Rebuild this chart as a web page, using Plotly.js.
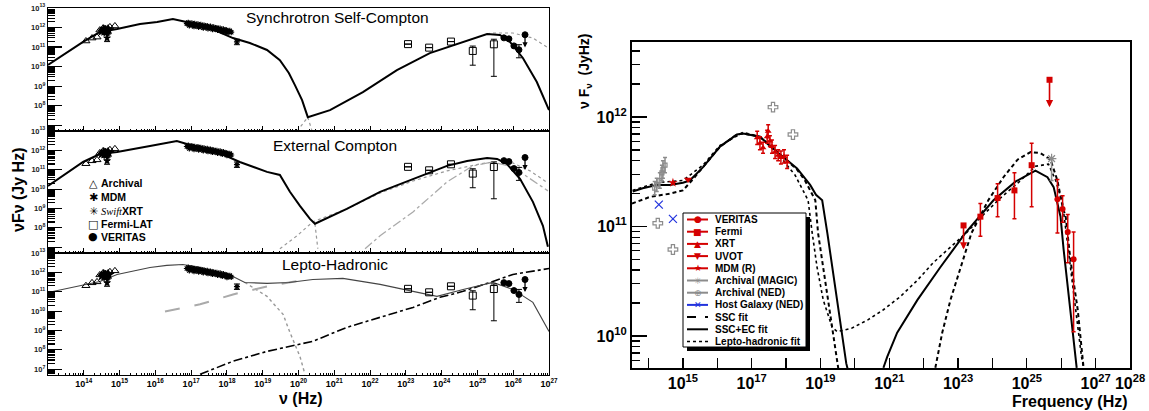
<!DOCTYPE html>
<html><head><meta charset="utf-8">
<script src="https://cdn.plot.ly/plotly-3.0.1.min.js"></script>
<style>body{margin:0;background:#fff}#chart{width:1149px;height:411px}</style>
</head><body><div id="chart"></div>
<script>
// ================= DATA (all values are log10) =================
// ---- Left figure: observed SED points (same in the three model panels)
const archNu = [14.06,14.23,14.37,14.45,14.54,14.73,14.87];
const archF  = [11.31,11.46,11.51,11.87,11.97,12.03,12.08];
const mdmNu  = [14.50,14.54,14.57,14.60,14.62,14.65,14.67,14.70,14.56,14.63,14.68];
const mdmF   = [11.80,11.86,11.78,11.90,11.84,11.88,11.82,11.86,11.92,11.76,11.93];
const mdmENu = [14.65], mdmEF = [11.46], mdmEHi = [11.62], mdmELo = [11.28];
const swiftNu = [16.88,16.92,16.97,17.02,17.06,17.10,17.14,17.19,17.23,17.27,17.32,17.36,17.41,17.45,17.50,17.54,17.58,17.63,17.67,17.72,17.76,17.81,17.85,17.90,17.94,17.98,18.03,18.08,18.12,16.95,17.08,17.21,17.34,17.47,17.60,17.74,17.87,18.00];
const swiftF  = [12.20,12.25,12.16,12.22,12.13,12.19,12.10,12.17,12.08,12.14,12.05,12.11,12.02,12.08,11.99,12.05,11.96,12.01,11.93,11.98,11.90,11.95,11.86,11.91,11.83,11.87,11.79,11.83,11.76,12.10,12.06,12.03,11.99,11.95,11.91,11.87,11.81,11.75];
const swiftENu = [18.28], swiftEF = [11.26], swiftEHi = [11.40], swiftELo = [11.12];
const lFermiNu = [23.06,23.65,24.26,24.87,25.46];
const lFermiF  = [11.15,10.97,11.28,10.80,11.14];
const lFermiHi = [11.15,10.97,11.28,11.05,11.40];
const lFermiLo = [11.15,10.97,11.28,10.07,9.50];
const lVerNu = [25.74,25.88,26.02,26.16];
const lVerF  = [11.47,11.42,11.06,10.86];
const lVerHi = [11.50,11.45,11.10,11.12];
const lVerLo = [11.44,11.39,11.02,10.45];
const lVerULNu = [26.33], lVerULF = [11.63], lVerULEnd = [10.98];

// ---- Left figure: model curves
// Synchrotron Self-Compton panel
const sscTotNu = [13.00,13.98,14.45,14.93,15.57,16.05,16.49,16.77,17.25,17.72,18.17,18.64,19.12,19.48,19.73,19.90,20.10,20.26,20.88,21.80,22.75,23.67,24.60,25.27,25.63,25.91,26.27,26.66,27.00];
const sscTotF  = [10.08,11.26,11.77,11.92,12.18,12.28,12.44,12.33,12.13,11.82,11.46,11.21,10.85,10.33,9.67,9.05,8.28,7.41,7.77,8.69,9.82,10.69,11.26,11.67,11.62,11.26,10.44,9.21,7.77];
const sscSyTailNu = [20.26,20.38], sscSyTailF = [7.41,6.69];
const sscIcLowNu = [19.96,20.26], sscIcLowF = [6.69,7.41];
const sscUnabsNu = [25.27,25.43,25.99,26.55,26.94], sscUnabsF = [11.67,11.72,11.72,11.46,11.00];
// External Compton panel
const ecTotNu = [13.00,13.98,14.45,14.93,15.85,16.60,16.88,17.72,18.36,19.12,19.48,19.76,20.04,20.32,20.46,21.35,22.28,23.20,24.15,24.71,25.27,25.55,25.82,26.19,26.55,26.83,26.97];
const ecTotF  = [10.16,11.40,11.81,11.92,12.23,12.48,12.33,11.92,11.40,10.89,10.73,9.86,9.13,8.46,8.21,8.98,9.86,10.53,11.20,11.45,11.61,11.56,11.30,10.53,9.34,8.10,7.02];
const ecSscNu = [19.48,19.96,20.40,21.35,22.28,23.20,24.15,25.07,25.63,25.99,26.47,26.97];
const ecSscF  = [6.92,7.59,8.31,8.98,9.80,10.42,10.94,11.30,11.45,11.35,10.94,10.32];
const ecEcNu = [21.86,22.28,23.20,24.15,24.87,25.43,25.99,26.55,26.97];
const ecEcF  = [6.92,7.59,8.82,10.37,11.20,11.40,11.14,10.42,9.91];
const ecSyTailNu = [20.46,20.54], ecSyTailF = [8.21,6.92];
// Lepto-Hadronic panel
const lhTotNu = [13.00,14.45,14.93,15.85,16.32,16.77,17.25,18.17,18.50,19.12,19.73,20.40,21.24,22.28,23.20,23.87,24.60,25.43,25.99,26.55,27.00];
const lhTotF  = [10.96,11.53,11.89,12.25,12.36,12.41,12.25,11.79,11.48,11.43,11.48,11.63,11.69,11.38,11.02,10.76,11.12,11.48,11.12,10.45,8.95];
const lhSyTailNu = [18.50,19.12,19.57,19.76,20.04,20.18];
const lhSyTailF  = [11.48,10.76,9.83,8.90,7.66,6.74];
const lhProtNu = [16.27,17.25,18.17,19.12,19.73,20.10];
const lhProtF  = [9.98,10.35,10.86,11.27,11.48,11.58];
const lhCascNu = [17.25,18.17,19.12,19.73,20.40,21.35,22.28,23.20,23.95,24.60,25.43,25.99,27.00];
const lhCascF  = [6.74,7.41,7.92,8.18,8.44,9.16,9.68,10.19,10.71,11.02,11.53,11.89,12.20];

// ---- Right figure: observed points
const verNu = [25.89,26.04,26.19,26.36];
const verF  = [11.25,11.16,10.95,10.70];
const verHi = [11.43,11.28,11.11,10.95];
const verLo = [10.94,11.04,10.67,10.04];
const fermiNu = [23.65,24.15,24.64,25.14];
const fermiF  = [11.09,11.26,11.33,11.56];
const fermiHi = [11.21,11.39,11.49,11.76];
const fermiLo = [10.91,11.09,11.07,11.18];
const fermiULNu = [23.16,25.66], fermiULF = [11.01,12.34], fermiULEnd = [10.79,12.09];
const xrtNu = [17.16,17.24,17.33,17.45,17.48,17.53,17.59,17.68,17.77,17.85,17.94,18.03];
const xrtF  = [11.81,11.76,11.72,11.82,11.87,11.78,11.73,11.68,11.65,11.63,11.64,11.59];
const xrtErr = [0.06,0.06,0.05,0.06,0.06,0.05,0.06,0.06,0.05,0.06,0.06,0.06];
const uvotNu = [15.15], uvotF = [11.43];
const mdmRNu = [14.71], mdmRF = [11.40];
const magicNu = [25.72], magicF = [11.62], magicLo = [11.42];
const nedNu = [17.62,18.20,14.27,14.71], nedF = [12.09,11.84,11.03,10.79];
const nedCNu = [14.18,14.24,14.33,14.39,14.42,14.48];
const nedCF  = [11.35,11.38,11.42,11.49,11.52,11.56];
const nedCErr = [0.06,0.06,0.07,0.07,0.08,0.07];
const hostNu = [14.30,14.71], hostF = [11.20,11.07];

// ---- Right figure: model fits (null = curve leaves the frame)
const fitSscNu = [13.52,14.04,14.62,15.00,15.26,15.58,16.08,16.57,16.75,17.24,17.74,18.32,18.55,18.72,18.85,18.93,19.08,19.22,19.37,19.49,19.52, null,
                  22.34,22.54,22.78,23.07,23.39,23.88,24.32,24.73,25.11,25.40,25.69,25.89,26.04,26.13,26.27,26.48,26.65];
const fitSscF  = [11.21,11.27,11.30,11.33,11.42,11.54,11.73,11.84,11.85,11.82,11.68,11.52,11.42,11.31,11.24,10.94,10.63,10.33,10.03,9.75,9.70, null,
                  9.71,10.03,10.33,10.63,10.94,11.24,11.45,11.61,11.68,11.67,11.61,11.42,11.18,11.09,10.69,10.24,9.71];
const fitEcNu = [13.54,13.83,14.24,14.62,15.00,15.20,15.58,16.08,16.57,16.75,17.24,17.74,18.32,18.70,18.87,19.05,19.20,19.34,19.49,19.63,19.75,19.79, null,
                 20.83,20.94,21.23,21.82,22.49,23.21,24.03,24.67,25.25,25.60,25.78,25.92,25.98,26.07,26.27,26.45];
const fitEcF  = [11.32,11.35,11.38,11.38,11.40,11.42,11.54,11.73,11.84,11.85,11.82,11.68,11.53,11.38,11.29,11.24,10.94,10.63,10.33,10.03,9.75,9.70, null,
                 9.71,9.81,10.03,10.33,10.63,10.94,11.24,11.41,11.51,11.45,11.36,11.18,11.09,10.79,10.24,9.71];
const fitLhNu = [13.54,14.24,15.00,15.58,16.08,16.75,17.24,17.74,18.26,18.64,18.76,18.90,19.08,19.34,19.49,19.90,20.39,20.83,21.32,21.82,22.28,22.78,23.27,23.65,24.23,24.82,25.25,25.63,25.84,26.04,26.27,26.45,26.59,26.65];
const fitLhF  = [11.33,11.40,11.42,11.56,11.74,11.86,11.82,11.67,11.47,11.24,10.94,10.63,10.33,10.08,10.04,10.07,10.15,10.24,10.36,10.51,10.67,10.81,10.95,11.08,11.26,11.42,11.55,11.57,11.42,11.21,10.63,10.15,9.81,9.71];

// ---- Tick labels
const leftDecades = [7,8,9,10,11,12,13];
const leftXDecades = [14,15,16,17,18,19,20,21,22,23,24,25,26,27];
const rightXDecades = [14,15,16,17,18,19,20,21,22,23,24,25,26,27,28];
const rightXLabelled = [15,17,19,21,23,25,27,28];
const rightYDecades = [10,11,12];

// ================= HELPERS =================
const W = 1149, H = 411;
const fx = p => p / W, fy = p => 1 - p / H;
const lin = a => a.map(v => v === null ? null : Math.pow(10, v));
const sup = n => '10<sup>' + n + '</sup>';
function asym(v, hi, lo) {
  return {type:'data', symmetric:false,
    array: hi.map((h,i)=>Math.pow(10,h)-Math.pow(10,v[i])),
    arrayminus: lo.map((l,i)=>Math.pow(10,v[i])-Math.pow(10,l))};
}
function sym(v, e) {
  return {type:'data', symmetric:false,
    array: e.map((d,i)=>Math.pow(10,v[i]+d)-Math.pow(10,v[i])),
    arrayminus: e.map((d,i)=>Math.pow(10,v[i])-Math.pow(10,v[i]-d))};
}
function minorVals(lo, hi) {
  const out = [];
  for (let n = lo; n <= hi; n++) for (let k = 2; k <= 9; k++) out.push(k * Math.pow(10, n));
  return out;
}
const FONT = 'Liberation Sans, Arial, Helvetica, sans-serif';
const RED = '#d40000', GRAY = '#8c8c8c';

// ================= TRACES =================
const traces = [];
const panels = [{x:'x', y:'y'}, {x:'x2', y:'y2'}, {x:'x3', y:'y3'}];
const annotations = [];

function line(xa, ya, nu, f, color, width, dash) {
  traces.push({x: lin(nu), y: lin(f), xaxis: xa, yaxis: ya, mode: 'lines', showlegend: false,
    line: {color: color, width: width, dash: dash || 'solid'}, hoverinfo: 'skip', connectgaps: false});
}

panels.forEach((p, i) => {
  if (i === 0) {
    line(p.x, p.y, sscSyTailNu, sscSyTailF, '#999', 1.2, 'dot');
    line(p.x, p.y, sscIcLowNu, sscIcLowF, '#999', 1.2, 'dot');
    line(p.x, p.y, sscUnabsNu, sscUnabsF, '#999', 1.2, 'dot');
    line(p.x, p.y, sscTotNu, sscTotF, '#000', 2);
  } else if (i === 1) {
    line(p.x, p.y, ecSyTailNu, ecSyTailF, '#999', 1.2, 'dot');
    line(p.x, p.y, ecSscNu, ecSscF, '#999', 1.2, 'dot');
    line(p.x, p.y, ecEcNu, ecEcF, '#aaa', 1.3, 'dashdot');
    line(p.x, p.y, ecTotNu, ecTotF, '#000', 2);
  } else {
    line(p.x, p.y, lhSyTailNu, lhSyTailF, '#999', 1.4, 'dot');
    line(p.x, p.y, lhProtNu, lhProtF, '#aaa', 2, 'longdash');
    line(p.x, p.y, lhCascNu, lhCascF, '#000', 1.6, 'dashdot');
    line(p.x, p.y, lhTotNu, lhTotF, '#444', 1.1);
  }
  const pts = (nu, f, sym_, size, extra) => traces.push(Object.assign({
    x: lin(nu), y: lin(f), xaxis: p.x, yaxis: p.y, mode: 'markers', showlegend: false, hoverinfo: 'skip',
    marker: {symbol: sym_, size: size, color: '#000', line: {color: '#000', width: 1}}}, extra || {}));
  pts(archNu, archF, 'triangle-up-open', 7);
  pts(mdmNu, mdmF, 'star', 6);
  pts(mdmENu, mdmEF, 'star', 5, {error_y: Object.assign(asym(mdmEF, mdmEHi, mdmELo), {color:'#000', width:3, thickness:1})});
  pts(swiftNu, swiftF, 'asterisk-open', 5, {marker:{symbol:'asterisk-open', size:5, color:'#000', line:{color:'#000', width:1.2}}});
  pts(swiftENu, swiftEF, 'asterisk-open', 5, {marker:{symbol:'asterisk-open', size:5, color:'#000', line:{color:'#000', width:1.2}},
      error_y: Object.assign(asym(swiftEF, swiftEHi, swiftELo), {color:'#000', width:3, thickness:1})});
  pts(lFermiNu, lFermiF, 'square-open', 7, {error_y: Object.assign(asym(lFermiF, lFermiHi, lFermiLo), {color:'#000', width:3, thickness:1})});
  pts(lVerNu, lVerF, 'circle', 6, {error_y: Object.assign(asym(lVerF, lVerHi, lVerLo), {color:'#000', width:3, thickness:1})});
  pts(lVerULNu, lVerULF, 'circle', 6);
  annotations.push({x: lVerULNu[0], y: lVerULEnd[0], ax: lVerULNu[0], ay: lVerULF[0], xref: p.x, yref: p.y, axref: p.x, ayref: p.y,
    showarrow: true, arrowhead: 2, arrowsize: 0.8, arrowwidth: 1.3, arrowcolor: '#000', text: ''});
});

// ---- Right panel
const RX = 'x4', RY = 'y4';
line(RX, RY, fitLhNu, fitLhF, '#000', 1.6, 'dot');
line(RX, RY, fitSscNu, fitSscF, '#000', 2, '4px,3px');
line(RX, RY, fitEcNu, fitEcF, '#000', 2);
function rpts(nu, f, symbol, size, color, err, open) {
  traces.push({x: lin(nu), y: lin(f), xaxis: RX, yaxis: RY, mode: 'markers', showlegend: false, hoverinfo: 'skip',
    marker: {symbol: symbol, size: size, color: color, line: {color: color, width: open ? 1.2 : 0}},
    error_y: err ? Object.assign(err, {color: color, width: 2, thickness: 1.5}) : undefined});
}
rpts(nedCNu, nedCF, 'square-open', 4, GRAY, sym(nedCF, nedCErr), true);
rpts(nedNu, nedF, 'cross-open', 8, GRAY, null, true);
rpts(hostNu, hostF, 'x-thin-open', 8, '#2233dd', null, true);
rpts(magicNu, magicF, 'asterisk-open', 8, GRAY, asym(magicF, magicF, magicLo), true);
rpts(xrtNu, xrtF, 'triangle-up', 6, RED, sym(xrtF, xrtErr));
rpts(uvotNu, uvotF, 'triangle-down', 7, RED);
rpts(mdmRNu, mdmRF, 'star', 7, RED);
rpts(fermiNu, fermiF, 'square', 6, RED, asym(fermiF, fermiHi, fermiLo));
rpts(fermiULNu, fermiULF, 'square', 6, RED);
rpts(verNu, verF, 'circle', 6, RED, asym(verF, verHi, verLo));
fermiULNu.forEach((n, i) => annotations.push({x: n, y: fermiULEnd[i], ax: n, ay: fermiULF[i], xref: RX, yref: RY, axref: RX, ayref: RY,
  showarrow: true, arrowhead: 2, arrowsize: 0.9, arrowwidth: 1.6, arrowcolor: RED, text: ''}));

// ================= AXES =================
const leftXDom = [fx(48), fx(549)];
const leftYDoms = [[fy(131), fy(8)], [fy(253), fy(131)], [fy(375), fy(253)]];
const layout = {
  width: W, height: H, margin: {l:0, r:0, t:0, b:0}, paper_bgcolor: '#fff', plot_bgcolor: '#fff',
  font: {family: FONT, color: '#000'}, showlegend: false, annotations: annotations, shapes: []
};
['', '2', '3'].forEach((s, i) => {
  layout['xaxis' + s] = {
    domain: leftXDom, anchor: 'y' + s, type: 'log', range: [13, 27], showgrid: false, zeroline: false,
    showline: true, mirror: true, linecolor: '#000', linewidth: 1.2,
    ticks: 'inside', ticklen: 5, tickcolor: '#000', tickmode: 'array',
    tickvals: lin(leftXDecades), ticktext: leftXDecades.map(sup),
    showticklabels: i === 2, tickfont: {size: 9, weight: 'bold'},
    minor: {tickmode: 'array', tickvals: minorVals(13, 26), ticks: 'inside', ticklen: 2.5, tickcolor: '#000'}
  };
  layout['yaxis' + s] = {
    domain: leftYDoms[i], anchor: 'x' + s, type: 'log', range: [6.7, 13], showgrid: false, zeroline: false,
    showline: true, mirror: true, linecolor: '#000', linewidth: 1.2,
    ticks: 'inside', ticklen: 14, tickcolor: '#000', tickwidth: 1.2, tickmode: 'array',
    tickvals: lin(leftDecades), ticktext: leftDecades.map(d => (i < 2 && d === 7) ? '' : sup(d)),
    tickfont: {size: 7.5, weight: 'bold', color: '#222'},
    minor: {tickmode: 'array', tickvals: minorVals(6, 12), ticks: 'inside', ticklen: 7, tickcolor: '#000', tickwidth: 1.2}
  };
});
layout.xaxis4 = {
  domain: [fx(632), fx(1130)], anchor: 'y4', type: 'log', range: [13.52, 28], showgrid: false, zeroline: false,
  showline: true, mirror: true, linecolor: '#000', linewidth: 2,
  ticks: 'inside', ticklen: 10, tickcolor: '#000', tickwidth: 1.2, tickmode: 'array',
  tickvals: lin(rightXDecades), ticktext: rightXDecades.map(d => rightXLabelled.includes(d) ? sup(d) : ''),
  tickfont: {size: 16, weight: 'bold'}
};
layout.yaxis4 = {
  domain: [fy(368), fy(42)], anchor: 'x4', type: 'log', range: [9.708, 12.685], showgrid: false, zeroline: false,
  showline: true, mirror: true, linecolor: '#000', linewidth: 2,
  ticks: 'inside', ticklen: 15, tickcolor: '#000', tickwidth: 1.2, tickmode: 'array',
  tickvals: lin(rightYDecades), ticktext: rightYDecades.map(sup), tickfont: {size: 16, weight: 'bold'},
  minor: {tickmode: 'array', tickvals: minorVals(9, 12), ticks: 'inside', ticklen: 8, tickcolor: '#000', tickwidth: 1.2}
};

// ================= TEXT =================
const txt = (x, y, text, size, opts) => annotations.push(Object.assign({
  x: fx(x), y: fy(y), xref: 'paper', yref: 'paper', text: text, showarrow: false,
  xanchor: 'center', yanchor: 'middle',
  font: {size: size, family: FONT, color: '#000'}}, opts || {}));
txt(337, 18, 'Synchrotron Self-Compton', 15.5);
txt(335, 145, 'External Compton', 15.5);
txt(335, 264, 'Lepto-Hadronic', 15.5);
txt(301, 398, '<b>ν (Hz)</b>', 16);
txt(18, 190, '<b>νFν (Jy Hz)</b>', 16, {textangle: -90});
// left legend
const ll = [['△', '<b>Archival</b>', 183], ['✱', '<b>MDM</b>', 197], ['✳', '<i style="font-family:Liberation Serif">Swift</i><b>XRT</b>', 211],
            ['□', '<b>Fermi-LAT</b>', 224], ['●', '<b>VERITAS</b>', 237]];
ll.forEach(r => {
  txt(93, r[2], r[0], 11, {font: {size: 11, family: 'DejaVu Sans', color: '#000'}});
  txt(99, r[2], r[1], 10.5, {xanchor: 'left'});
});
// right axis titles
txt(1130, 401, '<b>Frequency (Hz)</b>', 16, {xanchor: 'right'});
txt(585, 72, '<b>ν F<sub>ν</sub>  (JyHz)</b>', 14, {textangle: -90});

// right legend (box with shadow)
layout.shapes.push({type: 'rect', xref: 'paper', yref: 'paper', x0: fx(687), x1: fx(810), y0: fy(351), y1: fy(217), fillcolor: '#000', line: {width: 0}});
layout.shapes.push({type: 'rect', xref: 'paper', yref: 'paper', x0: fx(683), x1: fx(806), y0: fy(347), y1: fy(213), fillcolor: '#fff', line: {color: '#000', width: 1}});
const legRows = [
  ['VERITAS', RED, '●', 'solid'], ['Fermi', RED, '■', 'solid'], ['XRT', RED, '▲', 'solid'], ['UVOT', RED, '▼', 'solid'],
  ['MDM (R)', RED, '★', 'solid'], ['Archival (MAGIC)', GRAY, '✳', 'solid'], ['Archival (NED)', GRAY, '⊕', 'solid'],
  ['Host Galaxy (NED)', '#2233dd', '✕', 'solid'], ['SSC fit', '#000', '', 'dash'], ['SSC+EC fit', '#000', '', 'solid'],
  ['Lepto-hadronic fit', '#000', '', 'dot']];
legRows.forEach((r, i) => {
  const y = 219.5 + i * 12.2;
  layout.shapes.push({type: 'line', xref: 'paper', yref: 'paper', x0: fx(687), x1: fx(708), y0: fy(y), y1: fy(y),
    line: {color: r[1], width: r[3] === 'dot' ? 1.3 : 2, dash: r[3]}});
  if (r[2]) txt(697.5, y, r[2], 9, {font: {size: 9, family: 'DejaVu Sans', color: r[1]}});
  txt(713, y, '<b>' + r[0] + '</b>', 10, {xanchor: 'left'});
});

Plotly.newPlot('chart', traces, layout, {staticPlot: true, displayModeBar: false});
</script></body></html>
